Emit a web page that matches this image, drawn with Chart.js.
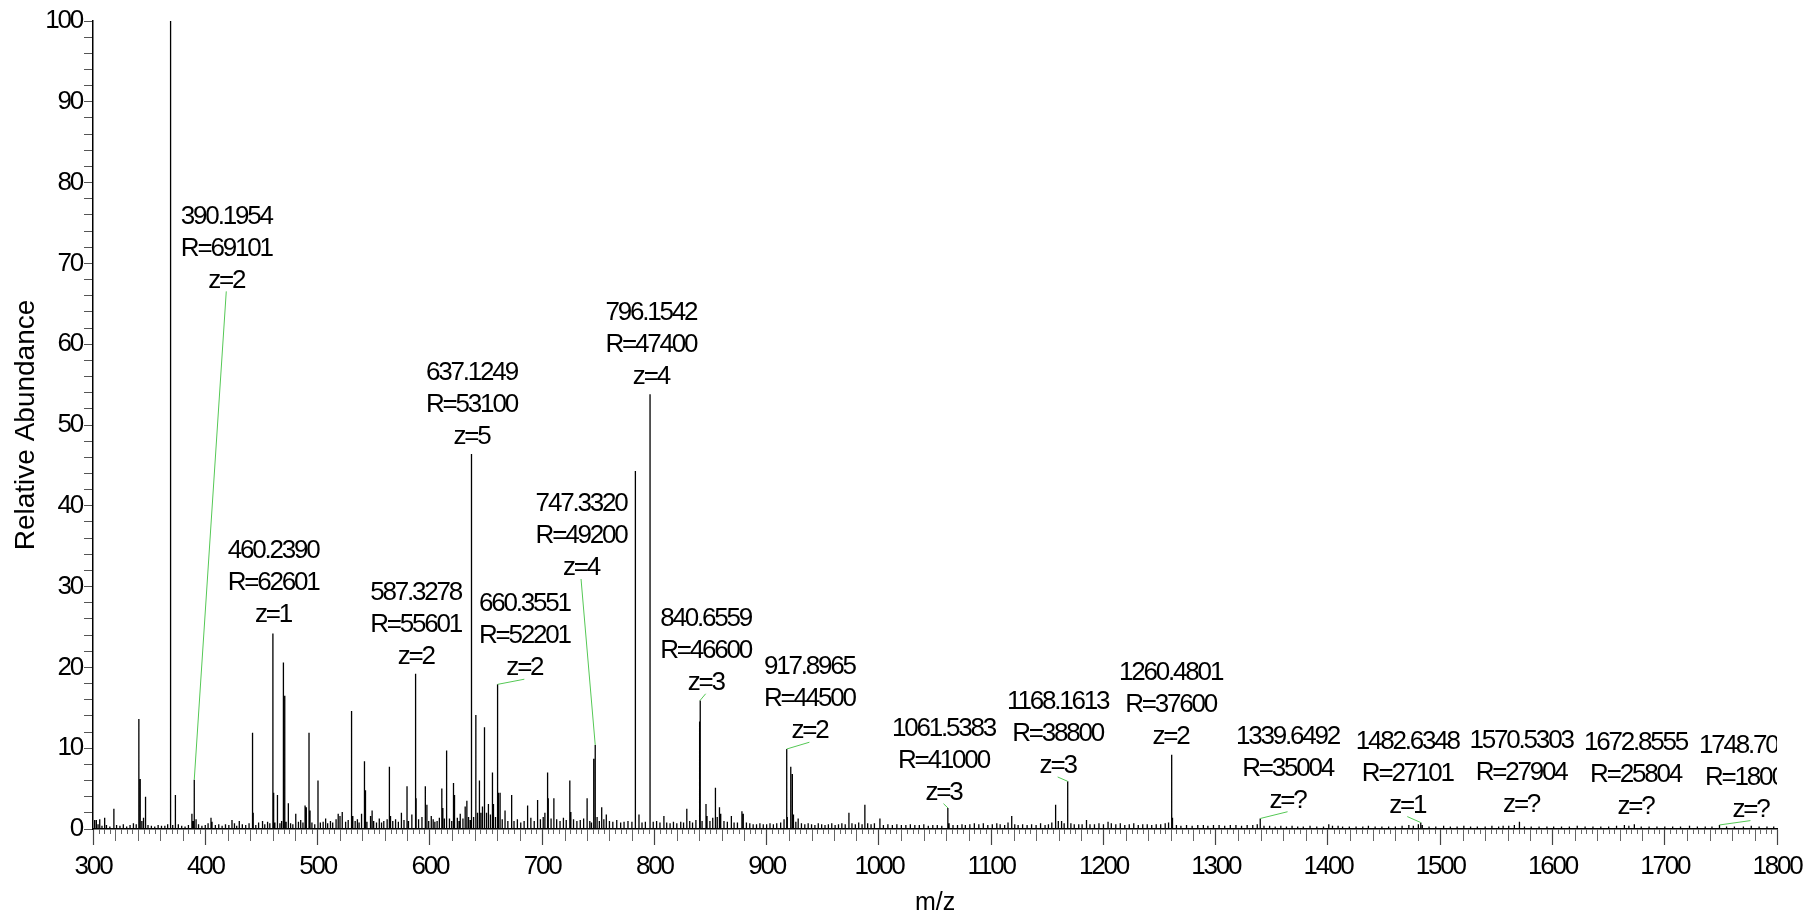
<!DOCTYPE html>
<html>
<head>
<meta charset="utf-8">
<title>Mass spectrum</title>
<script src="https://cdn.jsdelivr.net/npm/chart.js@4.4.0/dist/chart.umd.min.js"></script>
<style>
    html, body { margin: 0; padding: 0; background: #fff; }
    #wrap { width: 1812px; height: 914px; }
</style>
</head>
<body>
<div id="wrap"><canvas id="spectrum" width="1812" height="914"></canvas></div>
<script>
// main peaks [m/z, relative abundance %]
const peaks = [
    [301.5, 1.1], [303.0, 1.1], [306.0, 1.2], [310.4, 1.4], [318.6, 2.5],
    [340.85, 13.6], [342.06, 6.2], [343.5, 1.0], [345.0, 1.4], [346.8, 4.0],
    [369.1, 100], [373.1, 4.2], [373.6, 2.5],
    [388.1, 1.9], [389.2, 1.0], [390.1954, 6.1], [391.8, 1.2],
    [405.1, 1.4], [406.0, 0.9], [423.8, 1.1], [430.3, 1.0],
    [442.1, 11.9], [442.7, 2.0], [451.0, 1.0],
    [460.2390, 24.2], [460.9, 4.5], [464.3, 4.2], [469.6, 20.6], [470.8, 16.5], [474.0, 3.2],
    [480.6, 1.9], [488.9, 2.9], [490.0, 2.7], [492.4, 11.9], [493.3, 2.3], [500.4, 6.0],
    [507.2, 1.3], [516.5, 1.2], [518.4, 1.9], [520.0, 1.6], [522.0, 2.1], [530.3, 14.6], [531.4, 1.6],
    [539.2, 1.9], [541.8, 8.4], [542.7, 4.8], [547.2, 1.6], [548.6, 2.3], [562.0, 1.2], [564.0, 7.7],
    [565.0, 1.6], [574.7, 2.0], [579.7, 5.3], [584.0, 1.8], [587.3278, 19.2], [587.8, 3.8],
    [593.0, 1.5], [596.0, 5.3], [597.4, 3.0], [601.3, 1.6], [608.5, 1.4], [610.7, 5.0], [611.6, 2.6],
    [614.6, 9.7], [615.2, 6.1], [621.1, 5.7], [622.0, 4.2], [627.1, 1.9], [631.5, 2.8], [633.0, 3.5],
    [637.1249, 46.4], [641.0, 14.1], [642.5, 2.0], [644.2, 6.0], [645.5, 2.0], [646.9, 2.8],
    [648.7, 12.6], [650.5, 2.0], [652.2, 3.1], [654.0, 1.8], [655.8, 7.0], [656.7, 3.1],
    [660.3551, 17.9], [661.1, 4.5], [662.6, 4.5], [667.0, 2.3], [672.9, 4.2], [687.1, 2.9],
    [696.0, 3.6], [702.5, 2.0], [704.9, 7.0], [705.5, 3.8], [710.5, 3.8], [719.0, 1.4],
    [724.7, 6.0], [725.6, 2.1], [740.1, 3.8], [746.0, 8.7], [747.3320, 10.4], [753.1, 2.7],
    [757.2, 1.8], [783.1, 44.3], [786.3, 1.8], [796.1542, 53.8], [808.5, 1.6], [828.9, 2.5],
    [840.32, 13.3], [840.6559, 15.9], [840.99, 3.5], [846.0, 3.1], [846.9, 1.6], [852.0, 1.4],
    [854.4, 5.1], [858.0, 2.7], [859.1, 1.9], [868.6, 1.6], [878.0, 2.2], [879.2, 1.9],
    [915.5, 1.2], [917.8965, 9.9], [918.4, 1.5], [921.5, 7.7], [922.9, 6.8], [923.9, 1.8], [928.1, 1.3],
    [973.3, 2.0], [987.5, 3.0], [1000.9, 1.3],
    [1061.2, 2.0], [1061.5383, 2.6], [1118.3, 1.6], [1157.4, 3.0], [1159.8, 1.0], [1162.7, 1.0],
    [1168.1613, 5.9], [1184.9, 1.1], [1204.1, 0.9], [1260.4801, 9.2], [1260.98, 5.4], [1261.5, 1.4],
    [1339.6492, 1.3], [1400.7, 0.6], [1480.5, 0.6], [1482.6348, 0.8], [1570.5303, 0.9],
    [1664.0, 0.5], [1672.8555, 0.6], [1748.70, 0.5]
];

// baseline grass [m/z, %]
const grass = [
    [304.5, 0.6], [308, 0.4], [312, 0.5], [315, 0.3], [321, 0.5], [324, 0.4], [327, 0.6], [330, 0.3],
    [333, 0.5], [336, 0.7], [338.5, 0.6], [349, 0.5], [352, 0.4], [355, 0.3], [358, 0.5], [361, 0.4],
    [364, 0.4], [366.5, 0.6], [371, 0.5], [376, 0.6], [379, 0.4], [382, 0.3], [385, 0.5], [394, 0.6],
    [397, 0.4], [400, 0.5], [402.5, 0.7], [409, 0.5], [412, 0.6], [415, 0.4], [418, 0.6], [421, 0.5],
    [426, 0.7], [428, 0.4], [433, 0.6], [436, 0.5], [439, 0.7], [445, 0.5], [447.5, 0.8], [453, 0.6],
    [455.5, 0.9], [457.5, 0.7], [462, 0.8], [466.5, 0.7], [468, 1.0], [472, 0.9], [476, 0.7], [478, 0.6],
    [483, 0.9], [485, 1.1], [487, 0.8], [495, 0.8], [497.5, 0.6], [502.5, 0.8], [505, 0.9], [509, 0.7],
    [511.5, 1.0], [513.5, 0.8], [525, 0.9], [527.3, 1.1], [533.5, 1.0], [535.5, 1.2], [537, 0.8],
    [544, 0.9], [550, 1.0], [552.5, 0.8], [555, 1.3], [557, 0.8], [559, 1.0], [567, 1.0], [569.5, 1.2],
    [572, 0.9], [577, 1.1], [581, 1.0], [590, 1.2], [599, 1.0], [603, 1.2], [604.5, 0.9], [606.5, 1.0],
    [613, 1.3], [617.5, 1.3], [619.5, 1.0], [624.5, 1.4], [626, 1.0], [629.5, 1.3], [634.5, 1.5],
    [636, 1.1], [639, 1.5], [658.5, 1.5], [664.5, 1.2], [669.5, 1.0], [675, 1.0], [678, 1.2], [681, 0.8],
    [684, 1.0], [690, 1.4], [693, 1.0], [698.5, 1.2], [701, 1.5], [708, 1.3], [713, 1.2], [716, 1.0],
    [721.5, 1.1], [728, 1.2], [731, 1.0], [734, 1.1], [737, 1.3], [742.5, 1.0], [744, 0.8], [749, 1.5],
    [751, 1.0], [755, 1.2], [760, 1.0], [763, 0.9], [766.5, 1.1], [770, 0.8], [773, 0.9], [776.5, 1.0],
    [780, 0.9], [789, 0.8], [792, 0.9], [799, 0.9], [802, 1.0], [805, 0.8], [811, 0.8], [814, 0.7],
    [817, 0.9], [820, 0.7], [823.5, 0.9], [826, 0.8], [831.5, 1.0], [834, 0.8], [837, 1.1], [842.5, 1.0],
    [849.5, 1.0], [856, 1.5], [862, 1.0], [865, 0.9], [871, 0.8], [874, 0.8], [882, 0.8], [885, 0.7],
    [888, 0.6], [891, 0.6], [894, 0.7], [897, 0.6], [900, 0.6], [903, 0.7], [906, 0.6], [909, 0.7],
    [912.5, 0.8], [926, 0.9], [931, 0.7], [934, 0.6], [937, 0.7], [940, 0.6], [943, 0.5], [946, 0.7],
    [949, 0.6], [952, 0.5], [955, 0.6], [958, 0.7], [961, 0.5], [964, 0.6], [967, 0.7], [970, 0.6],
    [976, 0.7], [979, 0.6], [982, 0.8], [985, 0.6], [990, 0.7], [993, 0.6], [996, 0.7], [1004, 0.5],
    [1008, 0.6], [1012, 0.5], [1016, 0.6], [1020, 0.5], [1024, 0.5], [1028, 0.6], [1032, 0.5],
    [1036, 0.5], [1040, 0.6], [1044, 0.4], [1048, 0.5], [1052, 0.5], [1056, 0.4], [1062.5, 0.7],
    [1066, 0.5], [1070, 0.5], [1074, 0.6], [1077, 0.5], [1081, 0.6], [1085, 0.7], [1089, 0.6],
    [1093, 0.7], [1097, 0.5], [1101, 0.6], [1105, 0.7], [1108, 0.6], [1112, 0.5], [1115, 0.8],
    [1121, 0.6], [1124, 0.5], [1128, 0.6], [1132, 0.5], [1136, 0.6], [1140, 0.5], [1144, 0.7],
    [1148, 0.5], [1151, 0.6], [1154, 0.8], [1165, 0.7], [1171, 0.7], [1174, 0.6], [1178, 0.6],
    [1181, 0.6], [1188, 0.6], [1192, 0.6], [1196, 0.7], [1200, 0.6], [1207, 0.7], [1211, 0.6],
    [1215, 0.7], [1219, 0.5], [1223, 0.6], [1227, 0.7], [1231, 0.5], [1235, 0.6], [1239, 0.6],
    [1243, 0.5], [1247, 0.6], [1251, 0.6], [1255, 0.7], [1258, 0.8], [1265, 0.5], [1269, 0.4],
    [1274, 0.5], [1279, 0.4], [1284, 0.5], [1289, 0.5], [1293, 0.4], [1298, 0.5], [1303, 0.5],
    [1308, 0.4], [1313, 0.5], [1318, 0.5], [1323, 0.4], [1328, 0.5], [1333, 0.5], [1337, 0.6],
    [1343, 0.4], [1348, 0.4], [1353, 0.3], [1358, 0.4], [1363, 0.3], [1368, 0.4], [1373, 0.3],
    [1378, 0.3], [1384, 0.4], [1390, 0.3], [1396, 0.3], [1404, 0.4], [1409, 0.4], [1413, 0.3],
    [1419, 0.3], [1425, 0.3], [1431, 0.3], [1436, 0.4], [1442, 0.3], [1448, 0.3], [1454, 0.3],
    [1460, 0.3], [1466, 0.4], [1472, 0.5], [1476, 0.4], [1484, 0.5], [1490, 0.3], [1496, 0.3],
    [1503, 0.4], [1509, 0.3], [1515, 0.3], [1521, 0.4], [1527, 0.3], [1533, 0.3], [1540, 0.3],
    [1546, 0.4], [1552, 0.3], [1556, 0.4], [1561, 0.4], [1566, 0.5], [1575, 0.3], [1581, 0.3],
    [1588, 0.3], [1595, 0.3], [1601, 0.3], [1608, 0.3], [1615, 0.3], [1622, 0.4], [1629, 0.3],
    [1636, 0.3], [1643, 0.3], [1650, 0.3], [1657, 0.4], [1668, 0.4], [1679, 0.3], [1686, 0.3],
    [1693, 0.3], [1700, 0.3], [1707, 0.3], [1714, 0.3], [1722, 0.4], [1729, 0.3], [1736, 0.3],
    [1742, 0.3], [1755, 0.3], [1762, 0.3], [1770, 0.3], [1777, 0.4], [1784, 0.3], [1791, 0.3], [1797, 0.3]
];

// annotated peaks
const labelMz = [390.1954, 460.2390, 587.3278, 637.1249, 660.3551, 747.3320, 796.1542, 840.6559, 917.8965,
    1061.5383, 1168.1613, 1260.4801, 1339.6492, 1482.6348, 1570.5303, 1672.8555, 1748.70];
const labelText = [
    ['390.1954', 'R=69101', 'z=2'], ['460.2390', 'R=62601', 'z=1'], ['587.3278', 'R=55601', 'z=2'],
    ['637.1249', 'R=53100', 'z=5'], ['660.3551', 'R=52201', 'z=2'], ['747.3320', 'R=49200', 'z=4'],
    ['796.1542', 'R=47400', 'z=4'], ['840.6559', 'R=46600', 'z=3'], ['917.8965', 'R=44500', 'z=2'],
    ['1061.5383', 'R=41000', 'z=3'], ['1168.1613', 'R=38800', 'z=3'], ['1260.4801', 'R=37600', 'z=2'],
    ['1339.6492', 'R=35004', 'z=?'], ['1482.6348', 'R=27101', 'z=1'], ['1570.5303', 'R=27904', 'z=?'],
    ['1672.8555', 'R=25804', 'z=?'], ['1748.7048', 'R=18004', 'z=?']
];
// where each label sits: [m/z of text centre, % of bottom line]
const labelPos = [
    [418.7, 67.9], [460.4, 26.5], [587.4, 21.3], [637.1, 48.5], [684.2, 19.9], [734.7, 32.3],
    [796.9, 55.9], [845.7, 18.1], [938.1, 12.1], [1057.5, 4.5], [1159.2, 7.8], [1259.8, 11.4],
    [1364.0, 3.5], [1470.6, 2.9], [1572.0, 3.0], [1673.9, 2.7], [1776.3, 2.4]
];
const labelLeader = [true, false, false, false, true, true, false, true, true,
    true, true, false, true, true, false, false, true];

const FONT = '"Liberation Sans", Arial, sans-serif';
const TRACKING = '-2.2px';

const stickData = [];
peaks.concat(grass).sort((a, b) => a[0] - b[0]).forEach(p => {
    stickData.push({x: p[0], y: 0}, {x: p[0], y: p[1]}, {x: p[0], y: 0});
});

function peakHeight(mz) {
    const p = peaks.find(q => q[0] === mz);
    return p ? p[1] : 0;
}

// tick labels are set tight, axis titles are not
const tightTicks = {
    id: 'tightTicks',
    beforeDraw(chart) {
        Object.values(chart.scales).forEach(s => {
            if (s._tight) return;
            const drawLabels = s.drawLabels;
            s.drawLabels = function (area) {
                this.ctx.save();
                this.ctx.letterSpacing = TRACKING;
                drawLabels.call(this, area);
                this.ctx.restore();
            };
            s._tight = true;
        });
    }
};

const minorTicks = {
    id: 'minorTicks',
    afterDraw(chart) {
        const {ctx, chartArea} = chart;
        const x = chart.scales.x;
        ctx.save();
        ctx.strokeStyle = '#666';
        ctx.lineWidth = 1;
        for (let v = 305; v < 1800; v += 5) {
            if (v % 100 === 0) continue;
            const px = Math.round(x.getPixelForValue(v)) + 0.5;
            const len = v % 20 === 0 ? 12 : 5;
            ctx.beginPath();
            ctx.moveTo(px, chartArea.bottom);
            ctx.lineTo(px, chartArea.bottom + len);
            ctx.stroke();
        }
        ctx.restore();
    }
};

const peakLabels = {
    id: 'peakLabels',
    afterDatasetsDraw(chart) {
        const {ctx, chartArea} = chart;
        const x = chart.scales.x;
        const y = chart.scales.y;
        ctx.save();
        ctx.beginPath();
        ctx.rect(chartArea.left, 0, chartArea.right - chartArea.left, chartArea.bottom);
        ctx.clip();
        ctx.font = '26px ' + FONT;
        ctx.letterSpacing = TRACKING;
        ctx.fillStyle = '#000';
        ctx.textAlign = 'center';
        ctx.textBaseline = 'middle';
        labelMz.forEach((mz, i) => {
            const cx = x.getPixelForValue(labelPos[i][0]);
            const cy = y.getPixelForValue(labelPos[i][1]);
            const lines = labelText[i];
            lines.forEach((t, k) => {
                ctx.fillText(t, cx, cy - (lines.length - 1 - k) * 32);
            });
            if (labelLeader[i]) {
                ctx.strokeStyle = '#55c855';
                ctx.lineWidth = 1;
                ctx.beginPath();
                ctx.moveTo(cx, cy + 11);
                ctx.lineTo(x.getPixelForValue(mz), y.getPixelForValue(peakHeight(mz)));
                ctx.stroke();
            }
        });
        ctx.restore();
    }
};

new Chart(document.getElementById('spectrum'), {
    type: 'line',
    data: {
        datasets: [{
            label: 'Spectrum',
            data: stickData,
            borderColor: '#000',
            borderWidth: 1.3,
            pointRadius: 0,
            tension: 0,
            fill: false
        }]
    },
    options: {
        responsive: false,
        animation: false,
        layout: { padding: { left: 0, right: 29, top: 21, bottom: 0 } },
        plugins: {
            legend: { display: false },
            tooltip: { enabled: false }
        },
        scales: {
            x: {
                type: 'linear',
                min: 300,
                max: 1800,
                afterFit: s => { s.height = 85; },
                border: { color: '#000', width: 1.5 },
                grid: { drawOnChartArea: false, tickLength: 16, tickColor: '#444', tickWidth: 1.2 },
                ticks: {
                    stepSize: 100,
                    autoSkip: false,
                    maxRotation: 0,
                    padding: 6,
                    color: '#000',
                    font: { family: FONT, size: 26 },
                    callback: v => String(v)
                },
                title: {
                    display: true,
                    text: 'm/z',
                    color: '#000',
                    font: { family: FONT, size: 25, lineHeight: 0.88 },
                    padding: { top: 0, bottom: 0 }
                }
            },
            y: {
                min: 0,
                max: 100,
                afterFit: s => { s.width = 93; },
                border: { color: '#000', width: 1.5 },
                grid: { drawOnChartArea: false, tickLength: 9, tickColor: '#555', tickWidth: 1 },
                ticks: {
                    stepSize: 2,
                    autoSkip: false,
                    padding: 2,
                    color: '#000',
                    font: { family: FONT, size: 26 },
                    callback: v => (v % 10 === 0 ? String(v) : '')
                },
                title: {
                    display: true,
                    text: 'Relative Abundance',
                    color: '#000',
                    font: { family: FONT, size: 28, lineHeight: 1 },
                    padding: { top: 12, bottom: 0 }
                }
            }
        }
    },
    plugins: [tightTicks, minorTicks, peakLabels]
});
</script>
</body>
</html>
